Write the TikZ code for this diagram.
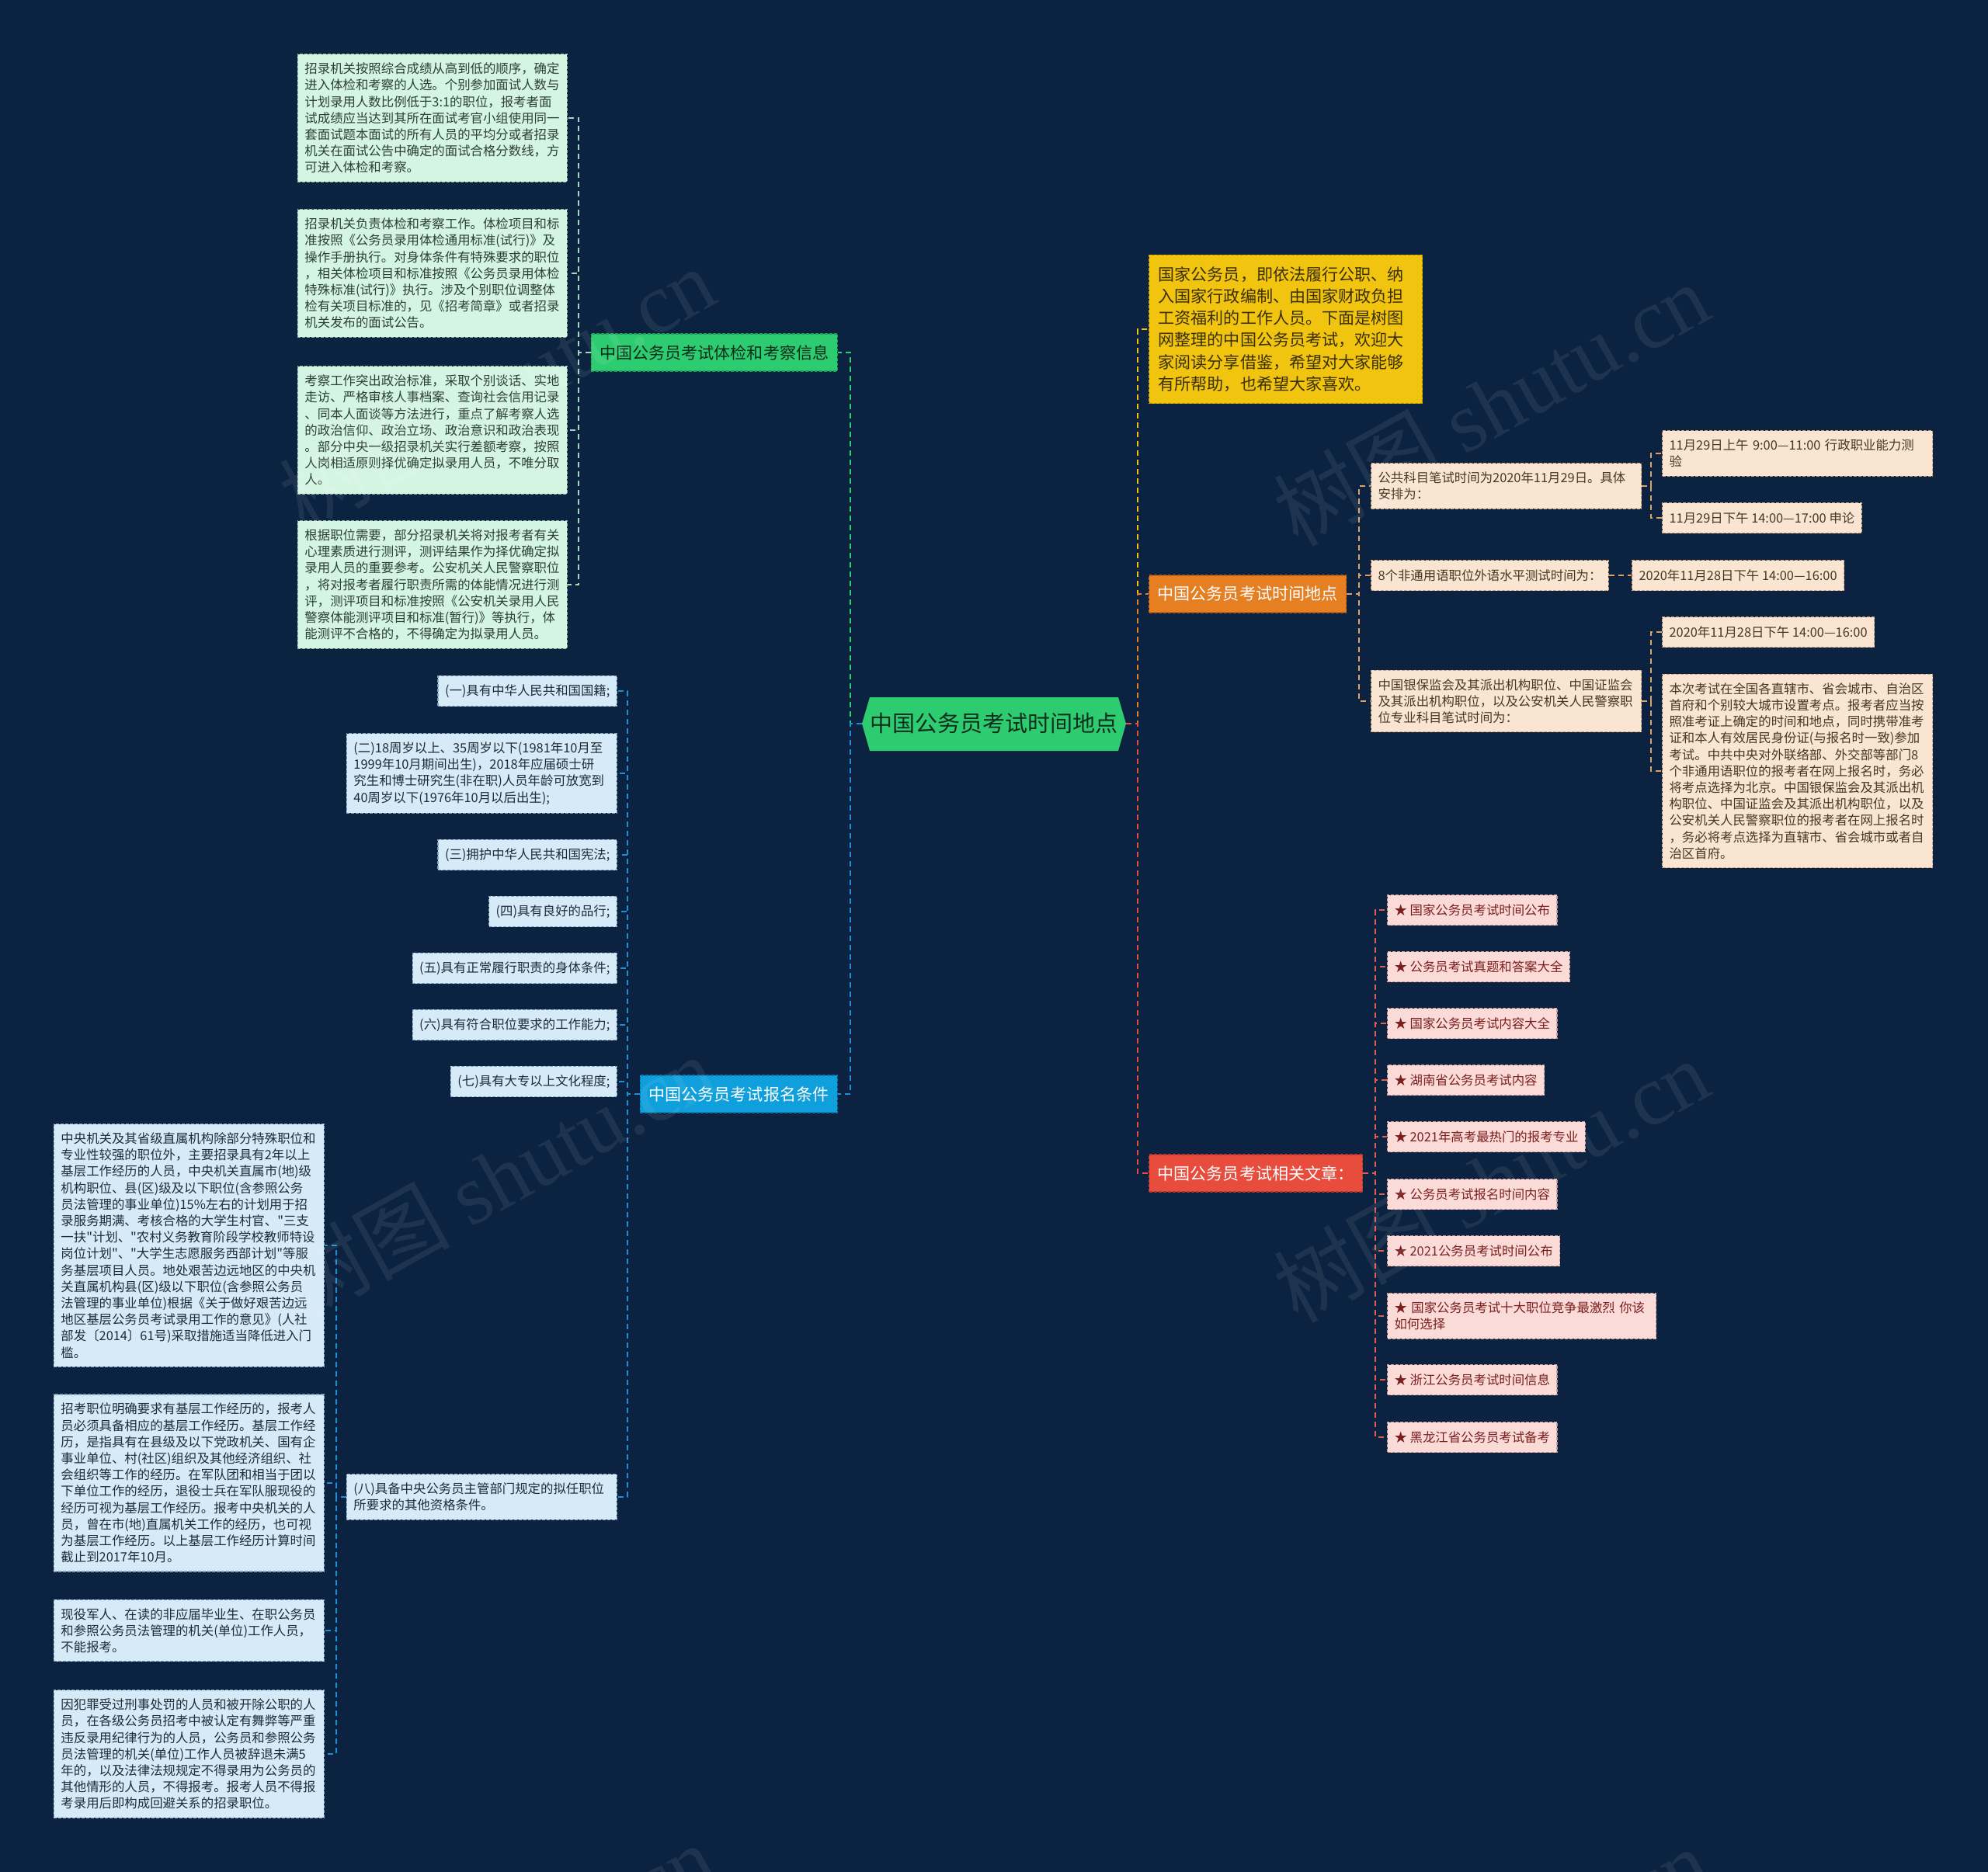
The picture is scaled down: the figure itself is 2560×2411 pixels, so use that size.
\documentclass[tikz,border=0pt]{standalone}
\usepackage{fontspec}
\newfontfamily\cjk{Noto Sans CJK SC}
\newfontfamily\wmlatin{Liberation Serif}
\definecolor{bg}{HTML}{0B2240}
\definecolor{cgreen}{HTML}{2ECC71}
\definecolor{ctext}{HTML}{0F2E1C}
\definecolor{brgreenb}{HTML}{1E9E55}
\definecolor{lgreen}{HTML}{D5F5E3}
\definecolor{lgreenb}{HTML}{8AB89C}
\definecolor{lgreent}{HTML}{2C3E35}
\definecolor{gline}{HTML}{A3D9B8}
\definecolor{brblue}{HTML}{0E9FDC}
\definecolor{brblueb}{HTML}{0A77A8}
\definecolor{lblue}{HTML}{D6EAF8}
\definecolor{lblueb}{HTML}{7FA6C0}
\definecolor{lbluet}{HTML}{1E2B38}
\definecolor{bline}{HTML}{1E8ED6}
\definecolor{yel}{HTML}{F1C40F}
\definecolor{yelb}{HTML}{C49A00}
\definecolor{yelt}{HTML}{3A2F05}
\definecolor{org}{HTML}{E67E22}
\definecolor{orgb}{HTML}{B85F12}
\definecolor{peach}{HTML}{FAE5D3}
\definecolor{peachb}{HTML}{C9A27E}
\definecolor{peacht}{HTML}{4A3422}
\definecolor{oline}{HTML}{E0A060}
\definecolor{rred}{HTML}{E74C3C}
\definecolor{rredb}{HTML}{B5352A}
\definecolor{ppink}{HTML}{FADBD8}
\definecolor{ppinkb}{HTML}{C99A96}
\definecolor{ppinkt}{HTML}{7A1E1E}
\definecolor{rline}{HTML}{E35D4F}
\tikzset{
  smallbox/.style={font=\cjk\fontsize{16.4}{21.2}\selectfont, inner xsep=9pt, inner ysep=11pt, align=left, line width=1.1pt, dash pattern=on 4pt off 2pt},
  gbox/.style={smallbox, fill=lgreen, draw=lgreenb, text=lgreent},
  bbox/.style={smallbox, fill=lblue, draw=lblueb, text=lbluet},
  pbox/.style={smallbox, fill=peach, draw=peachb, text=peacht},
  kbox/.style={smallbox, fill=ppink, draw=ppinkb, text=ppinkt},
  one/.style={minimum height=39pt},
  branch/.style={font=\cjk\fontsize{21.1}{28}\selectfont, inner xsep=11pt, inner ysep=8pt, minimum height=48pt, line width=1.1pt, dash pattern=on 4pt off 2pt},
  conn/.style={line width=2.2pt, dash pattern=on 7pt off 5pt},
  wm/.style={text=white, opacity=0.08, font=\cjk\fontsize{110}{110}\selectfont, rotate=29}
}
\begin{document}
\begin{tikzpicture}[x=1pt,y=-1pt]
\useasboundingbox (0,0) rectangle (2560,2411);
\fill[bg] (0,0) rectangle (2560,2411);

% center
\fill[cgreen] (1110,932) -- (1120,898) -- (1440,898) -- (1450,932) -- (1440,967) -- (1120,967) -- cycle;
\node[font=\cjk\fontsize{29}{35}\selectfont, text=ctext, minimum width=340pt, minimum height=69pt, inner sep=0pt] (c) at (1280,932) {中国公务员考试时间地点};

% left green branch
\node[branch, fill=cgreen, draw=brgreenb, text=ctext, anchor=east] (g) at (1079,454) {中国公务员考试体检和考察信息};
\node[gbox, text width=329pt, anchor=east] (g1) at (731,152) {招录机关按照综合成绩从高到低的顺序，确定\\进入体检和考察的人选。个别参加面试人数与\\计划录用人数比例低于3:1的职位，报考者面\\试成绩应当达到其所在面试考官小组使用同一\\套面试题本面试的所有人员的平均分或者招录\\机关在面试公告中确定的面试合格分数线，方\\可进入体检和考察。};
\node[gbox, text width=329pt, anchor=east] (g2) at (731,352) {招录机关负责体检和考察工作。体检项目和标\\准按照《公务员录用体检通用标准(试行)》及\\操作手册执行。对身体条件有特殊要求的职位\\，相关体检项目和标准按照《公务员录用体检\\特殊标准(试行)》执行。涉及个别职位调整体\\检有关项目标准的，见《招考简章》或者招录\\机关发布的面试公告。};
\node[gbox, text width=329pt, anchor=east] (g3) at (731,554) {考察工作突出政治标准，采取个别谈话、实地\\走访、严格审核人事档案、查询社会信用记录\\、同本人面谈等方法进行，重点了解考察人选\\的政治信仰、政治立场、政治意识和政治表现\\。部分中央一级招录机关实行差额考察，按照\\人岗相适原则择优确定拟录用人员，不唯分取\\人。};
\node[gbox, text width=329pt, anchor=east] (g4) at (731,753) {根据职位需要，部分招录机关将对报考者有关\\心理素质进行测评，测评结果作为择优确定拟\\录用人员的重要参考。公安机关人民警察职位\\，将对报考者履行职责所需的体能情况进行测\\评，测评项目和标准按照《公安机关录用人民\\警察体能测评项目和标准(暂行)》等执行，体\\能测评不合格的，不得确定为拟录用人员。};

% left blue branch
\node[branch, fill=brblue, draw=brblueb, text=white, anchor=east] (b) at (1079,1409) {中国公务员考试报名条件};
\node[bbox, one, anchor=east] (b1) at (795,890) {(一)具有中华人民共和国国籍;};
\node[bbox, text width=330pt, anchor=east] (b2) at (795,996) {(二)18周岁以上、35周岁以下(1981年10月至\\1999年10月期间出生)，2018年应届硕士研\\究生和博士研究生(非在职)人员年龄可放宽到\\40周岁以下(1976年10月以后出生);};
\node[bbox, one, anchor=east] (b3) at (795,1101) {(三)拥护中华人民共和国宪法;};
\node[bbox, one, anchor=east] (b4) at (795,1174) {(四)具有良好的品行;};
\node[bbox, one, anchor=east] (b5) at (795,1247) {(五)具有正常履行职责的身体条件;};
\node[bbox, one, anchor=east] (b6) at (795,1320) {(六)具有符合职位要求的工作能力;};
\node[bbox, one, anchor=east] (b7) at (795,1393) {(七)具有大专以上文化程度;};
\node[bbox, text width=330pt, anchor=east] (b8) at (795,1928) {(八)具备中央公务员主管部门规定的拟任职位\\所要求的其他资格条件。};
\node[bbox, text width=330pt, anchor=east] (b8a) at (418,1604) {中央机关及其省级直属机构除部分特殊职位和\\专业性较强的职位外，主要招录具有2年以上\\基层工作经历的人员，中央机关直属市(地)级\\机构职位、县(区)级及以下职位(含参照公务\\员法管理的事业单位)15\%左右的计划用于招\\录服务期满、考核合格的大学生村官、"三支\\一扶"计划、"农村义务教育阶段学校教师特设\\岗位计划"、"大学生志愿服务西部计划"等服\\务基层项目人员。地处艰苦边远地区的中央机\\关直属机构县(区)级以下职位(含参照公务员\\法管理的事业单位)根据《关于做好艰苦边远\\地区基层公务员考试录用工作的意见》(人社\\部发〔2014〕61号)采取措施适当降低进入门\\槛。};
\node[bbox, text width=330pt, anchor=east] (b8b) at (418,1910) {招考职位明确要求有基层工作经历的，报考人\\员必须具备相应的基层工作经历。基层工作经\\历，是指具有在县级及以下党政机关、国有企\\事业单位、村(社区)组织及其他经济组织、社\\会组织等工作的经历。在军队团和相当于团以\\下单位工作的经历，退役士兵在军队服现役的\\经历可视为基层工作经历。报考中央机关的人\\员，曾在市(地)直属机关工作的经历，也可视\\为基层工作经历。以上基层工作经历计算时间\\截止到2017年10月。};
\node[bbox, text width=330pt, anchor=east] (b8c) at (418,2100) {现役军人、在读的非应届毕业生、在职公务员\\和参照公务员法管理的机关(单位)工作人员，\\不能报考。};
\node[bbox, text width=330pt, anchor=east] (b8d) at (418,2259) {因犯罪受过刑事处罚的人员和被开除公职的人\\员，在各级公务员招考中被认定有舞弊等严重\\违反录用纪律行为的人员，公务员和参照公务\\员法管理的机关(单位)工作人员被辞退未满5\\年的，以及法律法规规定不得录用为公务员的\\其他情形的人员，不得报考。报考人员不得报\\考录用后即构成回避关系的招录职位。};

% right side
\node[font=\cjk\fontsize{21.1}{28.2}\selectfont, text width=328pt, inner xsep=12pt, inner ysep=15pt, align=left, fill=yel, draw=yelb, text=yelt, line width=1.1pt, dash pattern=on 4pt off 2pt, anchor=west] (y) at (1479,424) {国家公务员，即依法履行公职、纳\\入国家行政编制、由国家财政负担\\工资福利的工作人员。下面是树图\\网整理的中国公务员考试，欢迎大\\家阅读分享借鉴，希望对大家能够\\有所帮助，也希望大家喜欢。};
\node[branch, fill=org, draw=orgb, text=white, anchor=west] (o) at (1479,765) {中国公务员考试时间地点};
\node[branch, fill=rred, draw=rredb, text=white, anchor=west] (r) at (1479,1511) {中国公务员考试相关文章：};

\node[pbox, text width=330pt, anchor=west] (p1) at (1765,626) {公共科目笔试时间为2020年11月29日。具体\\安排为：};
\node[pbox, one, anchor=west] (p2) at (1765,741) {8个非通用语职位外语水平测试时间为：};
\node[pbox, text width=330pt, anchor=west] (p3) at (1765,903) {中国银保监会及其派出机构职位、中国证监会\\及其派出机构职位，以及公安机关人民警察职\\位专业科目笔试时间为：};
\node[pbox, text width=330pt, anchor=west] (p11) at (2140,584) {11月29日上午 9:00—11:00 行政职业能力测\\验};
\node[pbox, one, anchor=west] (p12) at (2140,667) {11月29日下午 14:00—17:00 申论};
\node[pbox, one, anchor=west] (p21) at (2101,741) {2020年11月28日下午 14:00—16:00};
\node[pbox, one, anchor=west] (p31) at (2140,814) {2020年11月28日下午 14:00—16:00};
\node[pbox, text width=330pt, anchor=west] (p32) at (2140,993) {本次考试在全国各直辖市、省会城市、自治区\\首府和个别较大城市设置考点。报考者应当按\\照准考证上确定的时间和地点，同时携带准考\\证和本人有效居民身份证(与报名时一致)参加\\考试。中共中央对外联络部、外交部等部门8\\个非通用语职位的报考者在网上报名时，务必\\将考点选择为北京。中国银保监会及其派出机\\构职位、中国证监会及其派出机构职位，以及\\公安机关人民警察职位的报考者在网上报名时\\，务必将考点选择为直辖市、省会城市或者自\\治区首府。};

\node[kbox, one, anchor=west] (k1) at (1786,1172) {★ 国家公务员考试时间公布};
\node[kbox, one, anchor=west] (k2) at (1786,1245) {★ 公务员考试真题和答案大全};
\node[kbox, one, anchor=west] (k3) at (1786,1318) {★ 国家公务员考试内容大全};
\node[kbox, one, anchor=west] (k4) at (1786,1391) {★ 湖南省公务员考试内容};
\node[kbox, one, anchor=west] (k5) at (1786,1464) {★ 2021年高考最热门的报考专业};
\node[kbox, one, anchor=west] (k6) at (1786,1538) {★ 公务员考试报名时间内容};
\node[kbox, one, anchor=west] (k7) at (1786,1611) {★ 2021公务员考试时间公布};
\node[kbox, text width=328pt, anchor=west] (k8) at (1786,1695) {★ 国家公务员考试十大职位竞争最激烈 你该\\如何选择};
\node[kbox, one, anchor=west] (k9) at (1786,1777) {★ 浙江公务员考试时间信息};
\node[kbox, one, anchor=west] (k10) at (1786,1851) {★ 黑龙江省公务员考试备考};

% bus coordinates
\coordinate (lbus) at (1095,932);
\coordinate (rbus) at (1465,932);
\coordinate (gbus) at (745,454);
\coordinate (bbus) at (808,1409);
\coordinate (b8bus) at (433,1928);
\coordinate (obus) at (1750,765);
\coordinate (p1bus) at (2126,626);
\coordinate (p3bus) at (2126,903);
\coordinate (kbus) at (1771,1511);

% connectors
\draw[conn, cgreen] (c.west) -- (lbus) |- (g.east);
\draw[conn, bline] (c.west) -- (lbus) |- (b.east);
\draw[conn, yel] (c.east) -- (rbus) |- (y.west);
\draw[conn, org] (c.east) -- (rbus) |- (o.west);
\draw[conn, rred] (c.east) -- (rbus) |- (r.west);
\foreach \n in {g1,g2,g3,g4} \draw[conn, gline] (g.west) -- (gbus) |- (\n.east);
\foreach \n in {b1,b2,b3,b4,b5,b6,b7,b8} \draw[conn, bline] (b.west) -- (bbus) |- (\n.east);
\foreach \n in {b8a,b8b,b8c,b8d} \draw[conn, bline] (b8.west) -- (b8bus) |- (\n.east);
\foreach \n in {p1,p2,p3} \draw[conn, oline] (o.east) -- (obus) |- (\n.west);
\foreach \n in {p11,p12} \draw[conn, oline] (p1.east) -- (p1bus) |- (\n.west);
\foreach \n in {p31,p32} \draw[conn, oline] (p3.east) -- (p3bus) |- (\n.west);
\draw[conn, oline] (p2.east) -- (p21.west);
\foreach \n in {k1,k2,k3,k4,k5,k6,k7,k8,k9,k10} \draw[conn, rline] (r.east) -- (kbus) |- (\n.west);

% watermarks
\begin{scope}
\clip (0,0) rectangle (2560,2411);
\node[wm] (wm1) at (640,500) {树图 {\wmlatin shutu.cn}};
\node[wm] (wm2) at (1920,520) {树图 {\wmlatin shutu.cn}};
\node[wm] (wm3) at (640,1515) {树图 {\wmlatin shutu.cn}};
\node[wm] (wm4) at (1920,1520) {树图 {\wmlatin shutu.cn}};
\node[wm] (wm5) at (640,2530) {树图 {\wmlatin shutu.cn}};
\node[wm] (wm6) at (1920,2535) {树图 {\wmlatin shutu.cn}};
\end{scope}
\end{tikzpicture}
\end{document}
